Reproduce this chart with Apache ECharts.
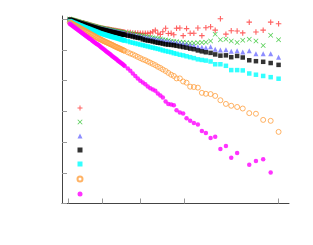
<!DOCTYPE html>
<html><head><meta charset="utf-8">
<script src="https://cdn.jsdelivr.net/npm/echarts@6/dist/echarts.min.js"></script>
<style>html,body{margin:0;padding:0;background:#fff}#c{width:313px;height:245px}</style>
</head><body><div id="c"></div>
<script>
// shared x positions of the samples
const xs = [3.40, 3.84, 4.28, 4.72, 5.16, 5.60, 6.04, 6.48, 6.93, 7.37, 7.81, 8.25, 8.69, 9.13, 9.57, 10.01, 10.45, 10.89, 11.34, 11.78,
  12.22, 12.66, 13.10, 13.54, 13.98, 14.42, 14.86, 15.31, 15.75, 16.19, 16.63, 17.07, 17.51, 17.95, 18.39, 18.83, 19.28, 19.72, 20.16, 20.60,
  21.04, 21.48, 21.92, 22.36, 22.80, 23.25, 23.69, 24.13, 24.57, 25.01, 25.45, 25.89, 26.33, 26.78, 27.22, 27.66,
  28.98, 30.08, 31.19, 32.29, 33.39, 34.49, 35.60, 36.70, 37.80, 38.91, 40.01, 41.11, 42.21, 43.32, 44.42,
  45.65, 46.84,
  48.08, 49.27, 50.46, 51.92, 53.37, 54.87, 56.46, 58.09, 59.86, 61.62, 63.39, 65.46, 67.49, 69.78, 72.21, 74.55, 77.15, 79.62, 82.49, 85.44, 88.62, 91.93, 95.41];

const redY = [5.99, 5.98, 5.97, 5.96, 5.95, 5.945, 5.94, 5.93, 5.92, 5.91, 5.90, 5.89, 5.88, 5.875, 5.87, 5.86, 5.85, 5.84, 5.83, 5.82,
  5.81, 5.80, 5.79, 5.785, 5.77, 5.76, 5.755, 5.745, 5.735, 5.725, 5.72, 5.71, 5.705, 5.70, 5.69, 5.685, 5.68, 5.675, 5.67, 5.665,
  5.66, 5.655, 5.65, 5.64, 5.635, 5.63, 5.625, 5.62, 5.61, 5.605, 5.60, 5.595, 5.59, 5.585, 5.58, 5.575,
  5.57, 5.56, 5.55, 5.55, 5.55, 5.54, 5.54, 5.54, 5.54, 5.55, 5.59, 5.64, 5.54, 5.50, 5.59,
  5.70, 5.53,
  5.54, 5.49, 5.70, 5.71, 5.46, 5.69, 5.54, 5.54, 5.71, 5.46, 5.72, 5.75, 5.64, 6.01, 5.51, 5.62, 5.61, 5.55, 5.90, 5.58, 5.64, 5.90, 5.85];

const greenY = [6.00, 5.99, 5.98, 5.97, 5.96, 5.95, 5.94, 5.93, 5.92, 5.91, 5.90, 5.89, 5.885, 5.875, 5.865, 5.855, 5.845, 5.835, 5.825, 5.815,
  5.805, 5.80, 5.79, 5.78, 5.77, 5.76, 5.755, 5.745, 5.735, 5.73, 5.72, 5.71, 5.705, 5.70, 5.69, 5.68, 5.675, 5.67, 5.66, 5.655,
  5.65, 5.64, 5.635, 5.63, 5.62, 5.615, 5.61, 5.60, 5.595, 5.59, 5.585, 5.58, 5.57, 5.565, 5.56, 5.555,
  5.55, 5.54, 5.52, 5.51, 5.48, 5.47, 5.46, 5.44, 5.42, 5.41, 5.39, 5.38, 5.36, 5.35, 5.33,
  5.32, 5.30,
  5.28, 5.27, 5.26, 5.25, 5.25, 5.23, 5.22, 5.22, 5.23, 5.24, 5.25, 5.29, 5.51, 5.33, 5.34, 5.29, 5.24, 5.31, 5.34, 5.29, 5.14, 5.47, 5.33];

const blueY = [5.99, 5.98, 5.97, 5.96, 5.955, 5.945, 5.935, 5.925, 5.915, 5.905, 5.895, 5.885, 5.88, 5.87, 5.86, 5.85, 5.84, 5.83, 5.82, 5.81,
  5.80, 5.79, 5.785, 5.775, 5.765, 5.755, 5.745, 5.735, 5.725, 5.715, 5.71, 5.70, 5.695, 5.69, 5.68, 5.675, 5.67, 5.66, 5.655, 5.645,
  5.64, 5.635, 5.625, 5.62, 5.61, 5.605, 5.60, 5.59, 5.585, 5.58, 5.57, 5.565, 5.56, 5.55, 5.545, 5.54,
  5.52, 5.51, 5.49, 5.47, 5.46, 5.44, 5.42, 5.41, 5.39, 5.38, 5.36, 5.35, 5.33, 5.32, 5.31,
  5.29, 5.28,
  5.26, 5.24, 5.23, 5.22, 5.20, 5.18, 5.16, 5.13, 5.10, 5.08, 5.07, 5.10, 5.02, 4.99, 5.00, 4.95, 4.97, 4.93, 4.97, 4.87, 4.87, 4.87, 4.76];

const blackY = [5.98, 5.97, 5.96, 5.95, 5.94, 5.925, 5.915, 5.905, 5.895, 5.885, 5.875, 5.865, 5.855, 5.845, 5.835, 5.825, 5.815, 5.805, 5.795, 5.785,
  5.775, 5.765, 5.755, 5.745, 5.735, 5.725, 5.715, 5.705, 5.695, 5.685, 5.675, 5.665, 5.66, 5.65, 5.645, 5.635, 5.63, 5.62, 5.61, 5.605,
  5.595, 5.59, 5.58, 5.575, 5.565, 5.56, 5.55, 5.545, 5.535, 5.53, 5.52, 5.515, 5.505, 5.50, 5.49, 5.485,
  5.46, 5.45, 5.43, 5.41, 5.39, 5.38, 5.34, 5.32, 5.30, 5.29, 5.27, 5.25, 5.23, 5.22, 5.20,
  5.18, 5.17,
  5.16, 5.15, 5.13, 5.11, 5.09, 5.07, 5.04, 5.02, 4.98, 4.95, 4.92, 4.90, 4.85, 4.81, 4.82, 4.76, 4.80, 4.75, 4.66, 4.63, 4.61, 4.57, 4.51];

const cyanY = [5.935, 5.92, 5.91, 5.895, 5.88, 5.87, 5.855, 5.84, 5.83, 5.815, 5.80, 5.79, 5.775, 5.76, 5.75, 5.735, 5.725, 5.71, 5.70, 5.685,
  5.675, 5.66, 5.65, 5.635, 5.625, 5.61, 5.60, 5.585, 5.575, 5.56, 5.545, 5.535, 5.525, 5.515, 5.505, 5.495, 5.485, 5.475, 5.465, 5.455,
  5.445, 5.435, 5.425, 5.415, 5.41, 5.40, 5.39, 5.38, 5.37, 5.36, 5.35, 5.34, 5.33, 5.32, 5.31, 5.30,
  5.28, 5.25, 5.23, 5.21, 5.19, 5.17, 5.15, 5.13, 5.11, 5.09, 5.07, 5.05, 5.03, 5.01, 4.98,
  4.96, 4.94,
  4.92, 4.89, 4.87, 4.84, 4.82, 4.79, 4.76, 4.73, 4.69, 4.67, 4.65, 4.62, 4.53, 4.53, 4.48, 4.34, 4.34, 4.33, 4.23, 4.19, 4.15, 4.11, 4.06];

const orangeY = [5.895, 5.88, 5.86, 5.84, 5.82, 5.805, 5.785, 5.77, 5.75, 5.73, 5.71, 5.695, 5.675, 5.66, 5.64, 5.62, 5.605, 5.585, 5.565, 5.55,
  5.53, 5.51, 5.49, 5.475, 5.455, 5.44, 5.42, 5.40, 5.385, 5.365, 5.35, 5.335, 5.32, 5.30, 5.285, 5.27, 5.255, 5.24, 5.225, 5.21,
  5.195, 5.18, 5.165, 5.15, 5.13, 5.115, 5.10, 5.085, 5.07, 5.055, 5.04, 5.025, 5.01, 4.995, 4.98, 4.965,
  4.92, 4.88, 4.85, 4.81, 4.77, 4.73, 4.69, 4.66, 4.62, 4.58, 4.54, 4.50, 4.45, 4.41, 4.36,
  4.31, 4.25,
  4.19, 4.15, 4.07, 4.07, 3.97, 3.93, 3.80, 3.79, 3.77, 3.60, 3.57, 3.56, 3.50, 3.36, 3.24, 3.18, 3.14, 3.09, 2.94, 2.92, 2.72, 2.69, 2.33];

const magentaY = [5.85, 5.825, 5.80, 5.775, 5.75, 5.725, 5.70, 5.68, 5.655, 5.63, 5.605, 5.58, 5.555, 5.53, 5.51, 5.485, 5.46, 5.435, 5.41, 5.385,
  5.36, 5.34, 5.315, 5.29, 5.265, 5.24, 5.215, 5.19, 5.17, 5.145, 5.12, 5.095, 5.07, 5.045, 5.02, 4.995, 4.965, 4.94, 4.915, 4.89,
  4.865, 4.84, 4.81, 4.785, 4.76, 4.735, 4.71, 4.685, 4.655, 4.63, 4.605, 4.58, 4.555, 4.53, 4.50, 4.475,
  4.39, 4.32, 4.23, 4.15, 4.07, 3.99, 3.94, 3.88, 3.81, 3.75, 3.71, 3.67, 3.58, 3.51, 3.45,
  3.32, 3.24,
  3.22, 3.20, 3.03, 2.96, 2.93, 2.77, 2.69, 2.62, 2.57, 2.36, 2.29, 2.13, 2.17, 1.77, 1.87, 1.49, 1.64, null, 1.26, 1.38, 1.44, 1.01, null];

const xTicks = [2.6, 17.6, 34.6, 53.7, 95.3];
const yTicks = [0, 1, 2, 3, 4, 5, 6];
const seriesNames = ['s1', 's2', 's3', 's4', 's5', 's6', 's7'];

const plusPath = 'path://M4,0H6V4H10V6H6V10H4V6H0V4H4Z';
const crossPath = 'path://M0,1L1,0L5,4L9,0L10,1L6,5L10,9L9,10L5,6L1,10L0,9L4,5Z';

function pts(ys) {
  const out = [];
  ys.forEach((y, i) => { if (y !== null) out.push([xs[i], y]); });
  return out;
}

const specs = [
  { ys: redY, symbol: plusPath, size: 5.5, style: { color: '#ff3a3a' } },
  { ys: greenY, symbol: crossPath, size: 5, style: { color: '#20c020' } },
  { ys: blueY, symbol: 'triangle', size: 5, style: { color: '#7070ff' } },
  { ys: blackY, symbol: 'rect', size: 4.5, style: { color: '#000000' } },
  { ys: cyanY, symbol: 'rect', size: 4.5, style: { color: '#00ffff' } },
  { ys: orangeY, symbol: 'circle', size: 5, style: { color: 'rgba(0,0,0,0)', borderColor: '#ffa040', borderWidth: 1 } },
  { ys: magentaY, symbol: 'circle', size: 4.5, style: { color: '#ff00ff' } }
];

const chart = echarts.init(document.getElementById('c'), null, { renderer: 'canvas' });
chart.setOption({
  animation: false,
  backgroundColor: '#ffffff',
  grid: { left: 62, top: 16, width: 227, height: 187.5, containLabel: false },
  legend: {
    orient: 'vertical', left: 76.5, top: 105.5, itemWidth: 5, itemHeight: 5, itemGap: 9,
    selectedMode: false, formatter: () => '', textStyle: { fontSize: 1, padding: 0 },
    padding: 0, data: seriesNames
  },
  xAxis: {
    type: 'value', min: 0, max: 100,
    axisLine: { show: true, lineStyle: { color: '#444', width: 1 } },
    axisTick: { show: true, inside: true, length: 5, customValues: xTicks, lineStyle: { color: '#999' } },
    axisLabel: { show: false }, splitLine: { show: false }
  },
  yAxis: {
    type: 'value', min: 0, max: 6.1,
    axisLine: { show: true, lineStyle: { color: '#444', width: 1 } },
    axisTick: { show: true, inside: true, length: 5, customValues: yTicks, lineStyle: { color: '#999' } },
    axisLabel: { show: false }, splitLine: { show: false }
  },
  series: specs.map((s, i) => ({
    name: seriesNames[i], type: 'scatter', symbol: s.symbol, symbolSize: s.size,
    itemStyle: s.style, data: pts(s.ys), silent: true
  }))
});
</script></body></html>
